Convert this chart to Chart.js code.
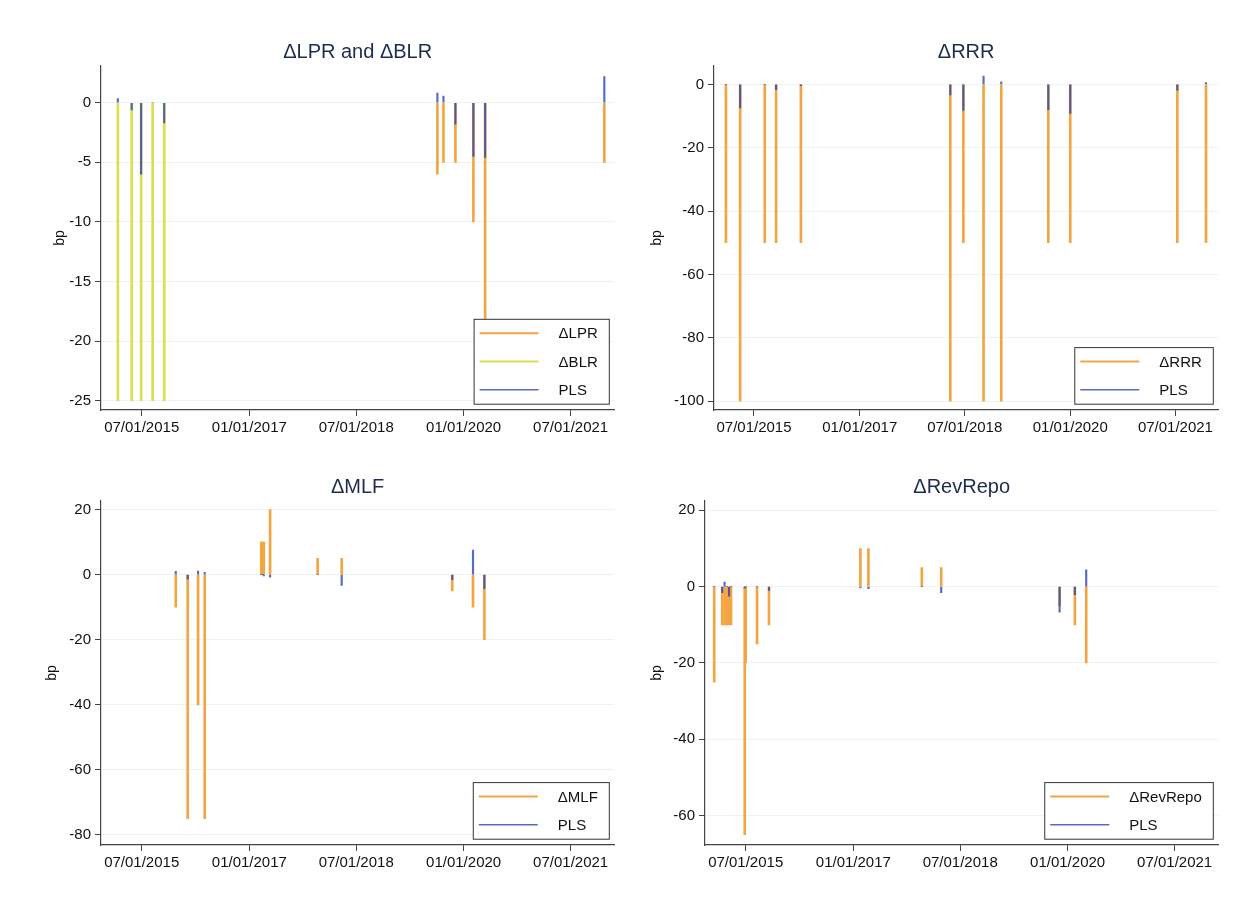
<!DOCTYPE html>
<html>
<head>
<meta charset="utf-8">
<script src="https://cdn.jsdelivr.net/npm/chart.js@4.4.1/dist/chart.umd.min.js"></script>
<style>
  html, body { margin:0; padding:0; background:#fff; }
  #wrap { position:relative; width:1252px; height:909px; overflow:hidden; }
  canvas { position:absolute; }
</style>
</head>
<body>
<div id="wrap">
  <canvas id="c1" width="626" height="454" style="left:0;top:0"></canvas>
  <canvas id="c2" width="626" height="454" style="left:604px;top:0"></canvas>
  <canvas id="c3" width="626" height="454" style="left:0;top:435px"></canvas>
  <canvas id="c4" width="626" height="454" style="left:604px;top:435px"></canvas>
</div>
<script>
// x axis
const X_MIN = "2014-12-05";
const X_MAX = "2022-02-09";
const X_TICK_DATES = ["2015-07-01", "2017-01-01", "2018-07-01", "2020-01-01", "2021-07-01"];
const X_TICK_LABELS = ["07/01/2015", "01/01/2017", "07/01/2018", "01/01/2020", "07/01/2021"];

// ΔBLR (bp) and PLS on those days
const BLR_DATES = ["2015-03-01", "2015-05-11", "2015-06-28", "2015-08-26", "2015-10-24"];
const BLR_VALUES = [-25, -25, -25, -25, -25];
const BLR_PLS = [0.35, -0.6, -6.0, 0, -1.7];

// ΔLPR
const LPR_DATES = ["2019-08-20", "2019-09-20", "2019-11-20", "2020-02-20", "2020-04-20", "2021-12-20"];
const LPR_VALUES = [-6, -5, -5, -10, -20, -5];
const LPR_PLS = [0.8, 0.55, -1.8, -4.5, -4.6, 2.2];

// ΔRRR
const RRR_DATES = ["2015-02-05", "2015-04-20", "2015-08-26", "2015-10-24", "2016-03-01", "2018-04-17",
  "2018-06-24", "2018-10-07", "2019-01-07", "2019-09-09", "2020-01-01", "2021-07-11", "2021-12-07"];
const RRR_VALUES = [-50, -100, -50, -50, -50, -100, -50, -100, -100, -50, -50, -50, -50];
const RRR_PLS = [0, -7.4, 0, -1.7, -0.4, -3.3, -8.2, 2.6, 0.8, -8.0, -9.2, -1.8, 0.6];

// ΔMLF
const MLF_DATES = ["2015-12-22", "2016-02-21", "2016-04-14", "2016-05-18", "2017-03-03", "2017-03-10",
  "2017-03-16", "2017-04-17", "2017-12-16", "2018-04-18", "2019-11-04", "2020-02-18", "2020-04-16"];
const MLF_VALUES = [-10, -75, -40, -75, 10, 10, 10, 20, 5, 5, -5, -10, -20];
const MLF_PLS = [1.0, -1.4, 1.1, 0.7, 0, 0, -0.4, -0.8, 0, -3.3, -1.5, 7.6, -4.3];

// ΔRevRepo
const REPO_DATES = ["2015-01-21", "2015-03-03", "2015-03-15", "2015-03-26", "2015-04-07", "2015-04-17",
  "2015-06-26", "2015-07-01", "2015-08-28", "2015-10-28", "2017-02-06", "2017-03-19", "2017-12-17",
  "2018-03-26", "2019-11-21", "2020-02-07", "2020-04-05"];
const REPO_VALUES = [-25, -10, -10, -10, -10, -10, -65, -20, -15, -10, 10, 10, 5, 5, -5, -10, -20];
const REPO_PLS = [0, -1.6, 1.2, 0, -2.5, 0, -0.4, 0, 0, -1.0, -0.3, -0.5, 0, -1.6, -6.7, -2.1, 4.4];

const FONT = '"Liberation Sans", Arial, Helvetica, sans-serif';
const ORANGE = "#f3a541";
const YELLOW = "#dbe04a";
const BLUE = "rgba(40,66,175,0.78)";

const day = s => Date.UTC(+s.slice(0, 4), +s.slice(5, 7) - 1, +s.slice(8, 10)) / 864e5;
const spikes = (dates, vals) => dates.map((s, i) => ({ x: day(s), y: vals[i] }));

function spikeSet(label, dates, vals, color, thick, order){
  return { label, data: spikes(dates, vals), backgroundColor: color, borderWidth: 0,
    barThickness: thick, grouped: false, order };
}

// legend box in lower right corner of the plot, Stata style
const boxLegend = {
  id: "boxLegend",
  afterDraw(chart){
    const ctx = chart.ctx, a = chart.chartArea, ds = chart.data.datasets;
    ctx.save();
    ctx.font = "15px " + FONT;
    const tw = Math.max(...ds.map(d => ctx.measureText(d.label).width));
    const rowH = 28.3, w = 85 + tw + 11, h = ds.length * rowH;
    const x = a.right - 5.5 - w, y = a.bottom - 6.3 - h;
    ctx.fillStyle = "#fff";
    ctx.fillRect(x, y, w, h);
    ctx.strokeStyle = "#333";
    ctx.lineWidth = 1;
    ctx.strokeRect(x + 0.5, y + 0.5, w, h);
    ds.forEach((d, i) => {
      const cy = y + 14.4 + i * rowH;
      ctx.strokeStyle = d.backgroundColor;
      ctx.lineWidth = d.barThickness;
      ctx.beginPath(); ctx.moveTo(x + 6, cy); ctx.lineTo(x + 65, cy); ctx.stroke();
      ctx.fillStyle = "#111";
      ctx.textBaseline = "middle";
      ctx.fillText(d.label, x + 85, cy + 1);
    });
    ctx.restore();
  }
};

const panelTitle = {
  id: "panelTitle",
  afterDraw(chart, args, opts){
    const ctx = chart.ctx, a = chart.chartArea;
    ctx.save();
    ctx.font = "20px " + FONT;
    ctx.fillStyle = "#1d2b4f";
    ctx.textAlign = "center";
    ctx.textBaseline = "alphabetic";
    ctx.fillText(opts.text, (a.left + a.right) / 2, 57.5);
    ctx.restore();
  }
};

function makeChart(id, title, datasets, yMin, yMax, yTicks, padL, plotLeft){
  return new Chart(document.getElementById(id), {
    type: "bar",
    data: { datasets },
    plugins: [boxLegend, panelTitle],
    options: {
      responsive: false,
      animation: false,
      layout: { padding: { left: padL, top: 66, right: 11.7, bottom: 0 } },
      plugins: { legend: { display: false }, tooltip: { enabled: false }, panelTitle: { text: title } },
      scales: {
        x: {
          type: "linear", offset: false,
          min: day(X_MIN), max: day(X_MAX),
          afterBuildTicks: s => { s.ticks = X_TICK_DATES.map(t => ({ value: day(t) })); },
          afterFit: s => { s.height = 44; },
          ticks: {
            autoSkip: false, maxRotation: 0, padding: 3, color: "#111",
            font: { family: FONT, size: 15 },
            callback: v => X_TICK_LABELS[X_TICK_DATES.findIndex(t => day(t) === v)]
          },
          grid: { offset: false, drawOnChartArea: false, drawTicks: true, tickLength: 6, tickColor: "#444" },
          border: { display: true, color: "#444", width: 1.2 }
        },
        y: {
          min: yMin, max: yMax,
          afterBuildTicks: s => { s.ticks = yTicks.map(v => ({ value: v })); },
          afterFit: s => { s.width = plotLeft - padL; },
          title: { display: true, text: "bp", color: "#111", padding: { top: 0, bottom: 0 },
            font: { family: FONT, size: 14 } },
          ticks: { padding: 4, color: "#111", font: { family: FONT, size: 15 } },
          grid: { color: "#edf2f2", lineWidth: 1, tickLength: 6, tickColor: "#444" },
          border: { display: true, color: "#444", width: 1.2 }
        }
      }
    }
  });
}

makeChart("c1", "ΔLPR and ΔBLR", [
  spikeSet("ΔLPR", LPR_DATES, LPR_VALUES, ORANGE, 2, 1),
  spikeSet("ΔBLR", BLR_DATES, BLR_VALUES, YELLOW, 2, 2),
  spikeSet("PLS", BLR_DATES.concat(LPR_DATES), BLR_PLS.concat(LPR_PLS), BLUE, 1.5, 0)
], -25.78, 3.08, [-25, -20, -15, -10, -5, 0], 51.6, 101);

makeChart("c2", "ΔRRR", [
  spikeSet("ΔRRR", RRR_DATES, RRR_VALUES, ORANGE, 2, 1),
  spikeSet("PLS", RRR_DATES, RRR_PLS, BLUE, 1.5, 0)
], -102.8, 5.8, [-100, -80, -60, -40, -20, 0], 44.6, 110);

makeChart("c3", "ΔMLF", [
  spikeSet("ΔMLF", MLF_DATES, MLF_VALUES, ORANGE, 2, 1),
  spikeSet("PLS", MLF_DATES, MLF_PLS, BLUE, 1.5, 0)
], -83.1, 22.65, [-80, -60, -40, -20, 0, 20], 43.6, 101);

makeChart("c4", "ΔRevRepo", [
  spikeSet("ΔRevRepo", REPO_DATES, REPO_VALUES, ORANGE, 2, 1),
  spikeSet("PLS", REPO_DATES, REPO_PLS, BLUE, 1.5, 0)
], -67.7, 22.45, [-60, -40, -20, 0, 20], 44.6, 101);
</script>
</body>
</html>
